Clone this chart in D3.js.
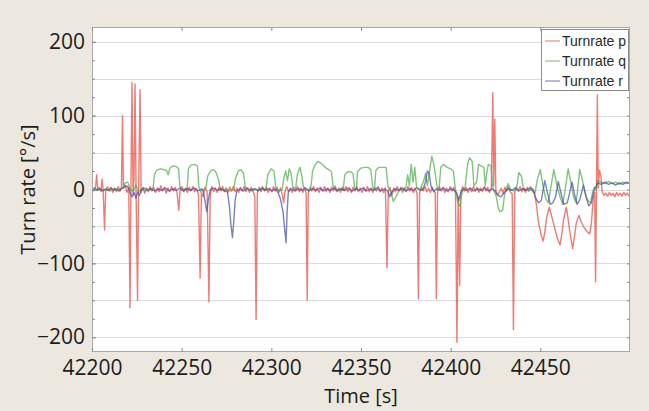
<!DOCTYPE html>
<html>
<head>
<meta charset="utf-8">
<script src="https://cdn.jsdelivr.net/npm/d3@7"></script>
<style>
body { margin:0; background:#ece8df; }
svg { display:block; }
</style>
</head>
<body>
<div id="chart"></div>
<script>
// axis ticks and labels
var xTicks = [42200, 42250, 42300, 42350, 42400, 42450];
var yTicks = [-200, -100, 0, 100, 200];
var gridValues = [-200, -150, -100, -50, 0, 50, 100, 150, 200];
var seriesNames = ["Turnrate p", "Turnrate q", "Turnrate r"];
var seriesColors = ["#e8483f", "#4fae4a", "#4b4fa6"];

// Turnrate p [time, deg/s]
var turnP = [
  [42200,3],[42201,-2],[42202,4],[42202.6,20],[42203.2,-1],[42204,3],[42205,-3],[42205.6,14],[42206.2,0],
  [42207,-55],[42207.6,-3],[42208.6,4],[42209.6,-2],[42210.6,3],[42211.6,-4],[42212.6,2],[42213.6,-3],
  [42214.6,4],[42215.6,-2],[42216.4,3],[42217,100],[42217.5,2],[42218.5,6],[42219.5,-4],[42220.5,3],
  [42221.2,-160],[42221.7,4],[42222.3,145],[42222.9,-6],[42223.4,12],[42224,143],[42224.6,-8],[42225.4,-150],
  [42226,2],[42226.8,135],[42227.4,-4],[42228.4,3],[42229.4,-5],[42230.4,2],[42231.4,-3],[42232.4,4],
  [42233.4,-2],[42234.4,3],[42235.4,-4],[42236.4,2],[42237.4,-3],[42238.4,5],[42239.4,-2],[42240.4,3],
  [42241.4,-5],[42242.4,2],[42243.4,-3],[42244.4,4],[42245.4,-2],[42246.4,3],[42247.4,-4],[42248.4,-28],
  [42249.1,-2],[42250.2,4],[42251.2,-3],[42252.2,2],[42253.2,-4],[42254.2,3],[42255.2,-2],[42256.2,4],
  [42257.2,-3],[42258.2,2],[42259.4,-8],[42260.3,-120],[42261,-4],[42262,-10],[42263,3],[42264.2,-3],
  [42265.2,-152],[42265.9,-8],[42266.8,4],[42267.8,-3],[42268.8,2],[42269.8,-4],[42270.8,3],[42271.8,-2],
  [42272.8,4],[42273.8,-3],[42274.8,2],[42275.8,-4],[42276.8,3],[42277.8,-2],[42278.8,4],[42279.8,-3],
  [42280.8,2],[42281.8,-4],[42282.8,3],[42283.8,-2],[42284.8,4],[42285.8,-3],[42286.8,2],[42287.8,-4],
  [42288.8,3],[42289.8,-2],[42290.8,-10],[42291.5,-176],[42292.2,-5],[42293.2,3],[42294.2,-3],[42295.2,4],
  [42296.2,-2],[42297.2,3],[42298.2,-4],[42299.2,2],[42300.2,-3],[42301.2,4],[42302.2,-2],[42303.2,3],
  [42304.2,-4],[42305.2,2],[42306.2,-8],[42306.9,-18],[42307.6,-3],[42308.6,4],[42309.6,-3],[42310.6,2],
  [42311.6,-4],[42312.6,3],[42313.6,-2],[42314.6,4],[42315.6,-3],[42316.6,2],[42317.6,-4],[42318.6,3],
  [42319.4,-6],[42320,-150],[42320.6,-4],[42321.6,3],[42322.6,-2],[42323.6,4],[42324.6,-3],[42325.6,2],
  [42326.6,-4],[42327.6,3],[42328.6,-2],[42329.6,4],[42330.6,-3],[42331.6,2],[42332.6,-4],[42333.6,3],
  [42334.6,-2],[42335.6,5],[42336.6,-3],[42337.6,2],[42338.6,-4],[42339.6,3],[42340.6,-2],[42341.6,4],
  [42342.6,-3],[42343.6,2],[42344.6,-4],[42345.6,3],[42346.6,-2],[42347.6,4],[42348.6,-3],[42349.6,2],
  [42350.6,-4],[42351.6,3],[42352.6,-2],[42353.6,4],[42354.6,-3],[42355.6,2],[42356.6,-4],[42357.6,3],
  [42358.6,-2],[42359.6,4],[42360.6,-3],[42361.6,2],[42362.6,-4],[42363.6,2],[42364.5,-106],[42365.2,-3],
  [42366.2,3],[42367.2,-8],[42368.2,2],[42369.2,-3],[42370.2,4],[42371.2,-2],[42372.2,3],[42373.2,-4],
  [42374.2,2],[42375.2,-3],[42376.2,4],[42377.2,-2],[42378.2,3],[42379.2,-4],[42380.2,2],[42381.3,-6],
  [42382,-148],[42382.7,-4],[42383.7,3],[42384.7,-2],[42385.7,4],[42386.7,-3],[42387.7,2],[42388.7,-4],
  [42389.7,3],[42390.7,-2],[42391.4,-5],[42392,-148],[42392.7,-3],[42393.7,4],[42394.7,-2],[42395.7,3],
  [42396.7,-4],[42397.7,2],[42398.7,-3],[42399.7,4],[42400.7,-2],[42401.7,3],[42402.7,-5],[42403.5,-207],
  [42404.2,-10],[42405,-130],[42405.7,-3],[42406.7,4],[42407.7,-2],[42408.7,3],[42409.7,-4],[42410.7,2],
  [42411.7,-3],[42412.7,4],[42413.7,-2],[42414.7,3],[42415.7,-4],[42416.7,2],[42417.7,-3],[42418.7,4],
  [42419.7,-2],[42420.7,3],[42421.7,-4],[42422.7,2],[42423.5,131],[42424,5],[42424.6,95],[42425.2,-2],
  [42426.2,-8],[42427.2,-3],[42428.2,2],[42429.2,-5],[42430.2,3],[42431.2,-2],[42432.2,4],[42433.2,-3],
  [42434.3,-6],[42435,-190],[42435.7,-4],[42436.7,3],[42437.7,-2],[42438.7,4],[42439.7,-3],[42440.7,2],
  [42441.7,-4],[42442.7,3],[42443.7,-2],[42444.7,4],[42445.7,-3],[42446.5,-4],[42447.5,-15],[42449,-45],
  [42450.5,-62],[42451.5,-70],[42452.5,-58],[42453.5,-38],[42455,-24],[42456.5,-38],[42458,-52],[42459.5,-66],
  [42461,-75],[42462,-60],[42463,-40],[42464.5,-24],[42465.5,-40],[42466.5,-58],[42468,-80],[42469,-64],
  [42470,-46],[42471.5,-35],[42472.5,-42],[42474,-50],[42475.5,-55],[42476.5,-58],[42477.5,-60],[42478.5,-45],
  [42479.5,-12],[42480.3,-4],[42480.8,-125],[42481.3,-3],[42481.8,128],[42482.3,2],[42483,26],[42483.8,18],
  [42484.5,-4],[42485.5,-8],[42486.5,-5],[42487.5,-9],[42488.5,-4],[42489.5,-8],[42490.5,-5],[42491.5,-10],
  [42492.5,-4],[42493.5,-8],[42494.5,-5],[42495.5,-9],[42496.5,-4],[42497.5,-8],[42498.5,-5],[42499.5,-9],[42500,-6]
];

// Turnrate q
var turnQ = [
  [42200,0],[42202,-1],[42204,1],[42206,-1],[42208,0],[42210,-2],[42212,1],[42214,-1],[42216,1],[42217,2],
  [42218.5,9],[42220,10],[42221,2],[42223,-3],[42224.5,6],[42226,-2],[42228,0],[42230,-2],[42232,1],[42234,0],
  [42234.8,20],[42236,26],[42238,28],[42240,27],[42241.5,26],[42242.5,20],[42243.5,29],[42245,32],[42247,31],
  [42248.3,28],[42249,4],[42250,-1],[42251.5,1],[42253,0],[42253.8,28],[42255,33],[42257,34],[42258.8,32],
  [42259.5,5],[42260.5,-3],[42262,0],[42263.5,2],[42264.5,18],[42266,25],[42267.5,27],[42269,24],[42270.5,14],
  [42271.5,2],[42273,-1],[42275,1],[42277,-2],[42279,0],[42280,15],[42281.5,25],[42283,27],[42284.5,22],
  [42285.5,3],[42287,0],[42289,-2],[42291,1],[42293,-1],[42295,0],[42297,1],[42298,20],[42300,28],[42301.5,25],
  [42302.5,3],[42304,-1],[42306,0],[42307,15],[42308,25],[42309,12],[42310,28],[42311,22],[42312,2],[42313.5,0],
  [42314.5,20],[42316,30],[42317,18],[42318,2],[42320,-1],[42322,1],[42323,25],[42324.5,34],[42326,38],
  [42328,35],[42330,30],[42332,27],[42333.5,24],[42334.5,3],[42336,-1],[42338,1],[42340,-1],[42341,20],
  [42342.5,24],[42344,24],[42345.5,22],[42346.5,2],[42347.5,0],[42348,24],[42350,29],[42352,30],[42354,30],
  [42355.5,27],[42356.5,3],[42357.5,0],[42358.3,26],[42360,30],[42362,30],[42364,30],[42365,5],[42366.5,-2],
  [42368,-16],[42369.5,-10],[42371,-2],[42373,0],[42375,2],[42376,20],[42377,5],[42378,34],[42379,10],
  [42380,30],[42381,3],[42383,0],[42385,12],[42386,22],[42387,5],[42388.5,30],[42389.5,45],[42390.5,35],
  [42391.5,20],[42392.5,2],[42393.5,0],[42394.5,30],[42396,34],[42398,30],[42400,28],[42401.5,25],[42402.5,3],
  [42404,-18],[42405,-23],[42406,-8],[42407,0],[42408,2],[42409.5,35],[42410.5,43],[42412,38],[42413,5],
  [42414.5,10],[42415.5,34],[42417,32],[42418.5,30],[42419.3,5],[42420,20],[42421,34],[42422.5,32],[42423.3,5],
  [42424,0],[42425.5,-10],[42426.5,-25],[42427.5,-30],[42429,-28],[42430,-8],[42431,0],[42432,8],[42433.5,0],
  [42435,-2],[42437,5],[42438,23],[42439.5,18],[42440.5,2],[42442,0],[42443.5,-2],[42445,0],[42447,-5],
  [42448.5,15],[42450,27],[42451.5,5],[42453,-12],[42454.5,-18],[42456,5],[42457.5,27],[42459,8],[42461,-10],
  [42462.5,-20],[42464,2],[42465.5,28],[42467,10],[42468.5,-10],[42470,-18],[42471,5],[42472,27],[42473.5,12],
  [42475,-5],[42476.5,-15],[42478,-18],[42479,-5],[42480,3],[42481,0],[42482,12],[42484,10],[42486,8],
  [42488,11],[42490,8],[42492,10],[42494,7],[42496,10],[42498,8],[42500,9]
];

// Turnrate r
var turnR = [
  [42200,0],[42201.5,2],[42203,-1],[42204.5,1],[42206,-2],[42207.5,1],[42209,-1],[42210.5,2],[42212,-1],
  [42213.5,1],[42215,-2],[42216.5,1],[42218,3],[42219.5,5],[42220.5,1],[42221.5,-6],[42222.5,-10],[42223.5,-4],
  [42224.5,-12],[42225.5,-3],[42226.5,-8],[42227.5,0],[42229,2],[42231,-1],[42233,1],[42235,-2],[42237,1],
  [42239,-1],[42241,2],[42243,-2],[42245,1],[42247,-1],[42249,2],[42251,-2],[42253,1],[42255,-1],[42257,2],
  [42259,-2],[42261,1],[42262,-2],[42263,-15],[42264,-30],[42265,-12],[42266,0],[42268,2],[42270,-1],
  [42272,1],[42274,-2],[42275.5,-3],[42276.5,-20],[42277.5,-48],[42278.3,-65],[42279,-45],[42279.8,-15],
  [42280.8,-2],[42282.5,1],[42284.5,-2],[42286.5,2],[42288.5,-1],[42290.5,1],[42292.5,-2],[42294.5,2],
  [42296.5,-1],[42298.5,1],[42300.5,-2],[42302,1],[42303.5,-3],[42305,-12],[42306.5,-30],[42307.5,-55],
  [42308.2,-72],[42308.8,-30],[42309.5,-3],[42311,1],[42313,-2],[42315,1],[42317,-1],[42319,2],[42321,-2],
  [42323,1],[42325,-1],[42327,2],[42329,-2],[42331,1],[42333,-1],[42335,2],[42337,-2],[42339,1],[42341,-1],
  [42343,2],[42345,-2],[42347,1],[42349,-1],[42351,2],[42353,-2],[42355,1],[42357,-1],[42359,2],[42361,-2],
  [42363,1],[42365,-2],[42366,-10],[42367,-4],[42369,1],[42371,-1],[42373,2],[42375,-2],[42377,1],[42379,-1],
  [42381,2],[42383,-1],[42384.5,0],[42386,10],[42387,25],[42388,22],[42389,5],[42390.5,-3],[42392,1],
  [42394,-1],[42396,2],[42398,-2],[42400,1],[42402,-1],[42403.5,-5],[42404.5,-15],[42405.5,-5],[42407,1],
  [42409,-1],[42411,2],[42413,-2],[42415,1],[42417,-1],[42419,2],[42421,-2],[42423,1],[42425,-3],[42426.5,-8],
  [42428,-10],[42430,-4],[42432,1],[42434,-1],[42436,2],[42438,-2],[42440,1],[42442,-1],[42444,2],[42446,0],
  [42447.5,-12],[42449,-18],[42450.5,-15],[42452.5,12],[42454,-5],[42455.5,-20],[42457,-18],[42458.5,-10],
  [42460,11],[42461.5,-5],[42463,-20],[42465,-18],[42466,-8],[42467.7,10],[42469,-6],[42470.5,-20],[42472,-14],
  [42474,6],[42475.5,-10],[42477,-22],[42478.5,-18],[42479.5,-5],[42480.5,2],[42482,9],[42484,7],[42486,10],
  [42488,7],[42490,9],[42492,6],[42494,9],[42496,7],[42498,10],[42500,8]
];

var series = [turnP, turnQ, turnR];

var W = 649, H = 411;
var margin = {top: 27, right: 19, bottom: 59, left: 92};
var x0 = margin.left, x1 = W - margin.right;
var y0 = margin.top, y1 = H - margin.bottom;

var x = d3.scaleLinear().domain([42200, 42500]).range([x0, x1]);
var y = d3.scaleLinear().domain([-220, 220]).range([y1, y0]);

var svg = d3.select("#chart").append("svg")
    .attr("width", W)
    .attr("height", H);

svg.append("rect")
    .attr("width", W).attr("height", H)
    .attr("fill", "#ece8df");

// plot area
svg.append("rect")
    .attr("x", x0).attr("y", y0)
    .attr("width", x1 - x0).attr("height", y1 - y0)
    .attr("fill", "#ffffff");

svg.append("clipPath").attr("id", "plotclip")
  .append("rect")
    .attr("x", x0).attr("y", y0)
    .attr("width", x1 - x0).attr("height", y1 - y0);

// horizontal grid
svg.append("g").selectAll("line")
    .data(gridValues)
  .enter().append("line")
    .attr("x1", x0).attr("x2", x1)
    .attr("y1", function(d) { return Math.round(y(d)) + 0.5; })
    .attr("y2", function(d) { return Math.round(y(d)) + 0.5; })
    .attr("stroke", "#dcdcdc")
    .attr("stroke-width", 1);

// data lines
var line = d3.line()
    .x(function(d) { return x(d[0]); })
    .y(function(d) { return y(d[1]); });

svg.append("g")
    .attr("clip-path", "url(#plotclip)")
  .selectAll("path")
    .data(series)
  .enter().append("path")
    .attr("d", line)
    .attr("fill", "none")
    .attr("stroke", function(d, i) { return seriesColors[i]; })
    .attr("stroke-width", 1.4)
    .attr("stroke-opacity", 0.72)
    .attr("stroke-linejoin", "round");

// frame
svg.append("rect")
    .attr("x", x0 + 0.5).attr("y", y0 + 0.5)
    .attr("width", x1 - x0 - 1).attr("height", y1 - y0 - 1)
    .attr("fill", "none")
    .attr("stroke", "#a8a8a8");

var tickFont = "'Open Sans', 'Noto Sans', sans-serif";

// bottom axis
var xAxis = svg.append("g")
    .attr("transform", "translate(0," + y1 + ")")
    .call(d3.axisBottom(x).tickValues(xTicks).tickSize(-4).tickPadding(8).tickFormat(d3.format("d")));
// top ticks
var xTop = svg.append("g")
    .attr("transform", "translate(0," + y0 + ")")
    .call(d3.axisTop(x).tickValues(xTicks).tickSize(-4).tickFormat(""));
// left axis
var yAxis = svg.append("g")
    .attr("transform", "translate(" + x0 + ",0)")
    .call(d3.axisLeft(y).tickValues(yTicks).tickSize(-4).tickPadding(7));
var yMinor = svg.append("g")
    .attr("transform", "translate(" + x0 + ",0)")
    .call(d3.axisLeft(y).tickValues(d3.range(-200, 201, 25)).tickSize(-3).tickFormat(""));
var yRight = svg.append("g")
    .attr("transform", "translate(" + x1 + ",0)")
    .call(d3.axisRight(y).tickValues(d3.range(-200, 201, 25)).tickSize(-3).tickFormat(""));

[xAxis, xTop, yAxis, yMinor, yRight].forEach(function(g) {
    g.select(".domain").remove();
    g.selectAll(".tick line").attr("stroke", "#8c8c8c");
    g.selectAll(".tick text")
        .attr("fill", "#1c1c1c")
        .style("font-family", tickFont)
        .style("font-size", "21px");
});

// axis labels
svg.append("text")
    .attr("x", (x0 + x1) / 2)
    .attr("y", 403)
    .attr("text-anchor", "middle")
    .style("font-family", tickFont)
    .style("font-size", "20px")
    .attr("fill", "#1c1c1c")
    .text("Time [s]");

svg.append("text")
    .attr("transform", "translate(35," + ((y0 + y1) / 2) + ") rotate(-90)")
    .attr("text-anchor", "middle")
    .style("font-family", tickFont)
    .style("font-size", "20px")
    .attr("fill", "#1c1c1c")
    .text("Turn rate [°/s]");

// legend
var legend = svg.append("g");
legend.append("rect")
    .attr("x", 541.5).attr("y", 29.5)
    .attr("width", 87).attr("height", 61)
    .attr("fill", "#ffffff")
    .attr("stroke", "#8c8c8c");

var items = legend.selectAll("g.item")
    .data(seriesNames)
  .enter().append("g")
    .attr("class", "item")
    .attr("transform", function(d, i) { return "translate(0," + (41 + i * 20) + ")"; });
items.append("line")
    .attr("x1", 545).attr("x2", 560)
    .attr("stroke", function(d, i) { return seriesColors[i]; })
    .attr("stroke-opacity", 0.8);
items.append("text")
    .attr("x", 562)
    .attr("dy", "0.35em")
    .style("font-family", "'Liberation Sans', Arial, sans-serif")
    .style("font-size", "14px")
    .attr("fill", "#2a2a2a")
    .text(function(d) { return d; });
</script>
</body>
</html>
